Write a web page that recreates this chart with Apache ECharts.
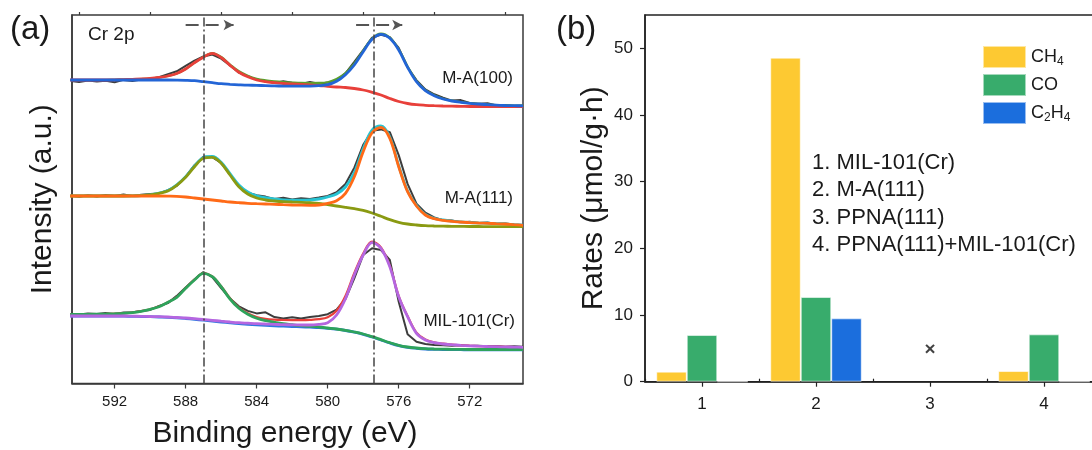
<!DOCTYPE html>
<html>
<head>
<meta charset="utf-8">
<script src="https://cdn.jsdelivr.net/npm/echarts@6/dist/echarts.min.js"></script>
<style>
  html, body { margin: 0; padding: 0; background: #fff; }
  #chart { width: 1092px; height: 450px; }
</style>
</head>
<body>
<div id="chart"></div>
<script>
// ---------- (a) Cr 2p XPS spectra ----------
const energy = [594.5, 594, 593.5, 593, 592.5, 592, 591.5, 591, 590.5, 590,
  589.5, 589, 588.5, 588, 587.5, 587, 586.5, 586, 585.5, 585,
  584.5, 584, 583.5, 583, 582.5, 582, 581.5, 581, 580.5, 580,
  579.5, 579, 578.5, 578, 577.5, 577, 576.5, 576, 575.5, 575,
  574.5, 574, 573.5, 573, 572.5, 572, 571.5, 571, 570.5, 570, 569.5, 569];

// M-A(100)
const ma100Raw = [302.6, 301.4, 303.1, 301.9, 302.8, 301.2, 303.6, 302.5, 304.1, 304.4,
  306.3, 309.4, 312.2, 317.6, 322.9, 327.1, 329.0, 324.8, 318.1, 310.9,
  307.3, 303.9, 302.6, 300.4, 302.3, 300.8, 299.6, 301.4, 299.8, 300.9,
  303.1, 310.2, 321.6, 333.5, 345.9, 348.7, 346.4, 335.6, 316.3, 303.4,
  294.1, 289.2, 285.7, 282.9, 283.4, 280.6, 279.8, 280.3, 278.1, 278.6, 277.4, 278.0];
const ma100Fit1 = [303.5, 303.5, 303.5, 303.5, 303.5, 303.7, 303.9, 304.2, 304.5, 305.0,
  306.0, 307.5, 310.0, 314.5, 320.8, 326.3, 330.2, 326.0, 318.2, 311.3,
  306.7, 303.5, 301.8, 300.8, 300.0, 299.5, 299.0, 298.5, 298.0, 297.2,
  296.5, 296.0, 295.0, 293.5, 291.2, 288.5, 285.0, 282.0, 280.0, 278.8,
  278.2, 277.8, 277.5, 277.3, 277.2, 277.0, 277.0, 277.0, 277.0, 277.0, 277.0, 277.0];
const ma100Fit2 = [303.5, 303.5, 303.5, 303.5, 303.5, 303.5, 303.5, 303.5, 303.5, 303.5,
  303.5, 303.5, 303.4, 303.2, 302.8, 301.8, 300.8, 299.8, 299.2, 298.7,
  298.3, 298.2, 297.8, 297.6, 297.4, 297.3, 297.3, 297.4, 297.8, 298.8,
  302.2, 308.8, 318.5, 331.8, 344.2, 349.2, 345.2, 333.5, 316.2, 301.8,
  292.8, 287.8, 284.5, 282.5, 281.2, 280.2, 279.5, 278.8, 278.3, 278.0, 277.8, 277.7];
const ma100Env = [303.5, 303.5, 303.5, 303.5, 303.5, 303.7, 303.9, 304.2, 304.5, 305.0,
  306.0, 307.5, 310.0, 314.5, 320.8, 326.5, 330.5, 326.5, 319.0, 312.2,
  307.8, 304.8, 303.2, 302.2, 301.5, 301.0, 300.6, 300.5, 300.6, 301.3,
  304.5, 310.5, 320.0, 332.8, 345.0, 350.0, 346.0, 334.3, 317.0, 302.5,
  293.3, 288.2, 284.8, 282.8, 281.5, 280.4, 279.7, 279.0, 278.5, 278.2, 278.0, 277.9];

// M-A(111)
const ma111Raw = [187.9, 186.8, 188.2, 187.1, 188.6, 187.4, 188.9, 187.6, 188.7, 189.4,
  190.1, 193.4, 197.6, 206.9, 218.3, 226.7, 226.4, 220.6, 208.8, 197.1,
  190.8, 188.2, 186.9, 184.6, 185.8, 184.1, 185.2, 184.4, 185.9, 187.6,
  191.2, 199.4, 215.8, 238.6, 252.7, 254.1, 251.3, 228.4, 199.6, 179.8,
  170.9, 166.1, 163.4, 162.9, 161.2, 161.8, 160.4, 160.9, 159.6, 160.1, 158.9, 158.6];
const ma111Fit1 = [187.5, 187.5, 187.5, 187.5, 187.5, 187.5, 187.5, 187.6, 187.8, 188.5,
  190.2, 192.5, 198.2, 206.2, 216.8, 225.2, 226.2, 220.2, 208.5, 196.8,
  189.5, 185.5, 183.5, 182.5, 181.8, 181.5, 181.2, 180.8, 180.2, 178.8,
  177.5, 176.2, 174.8, 173.2, 170.5, 167.2, 163.8, 161.2, 159.5, 158.5,
  157.8, 157.5, 157.3, 157.2, 157.1, 157.0, 157.0, 156.9, 156.9, 156.8, 156.8, 156.8];
const ma111Fit2 = [187.5, 187.5, 187.5, 187.5, 187.5, 187.5, 187.5, 187.5, 187.5, 187.5,
  187.5, 187.4, 187.2, 186.5, 185.5, 184.5, 183.5, 182.5, 181.5, 180.8,
  180.2, 179.8, 179.5, 179.2, 178.8, 178.5, 178.3, 178.2, 178.5, 180.2,
  182.8, 190.2, 206.8, 231.8, 250.8, 256.2, 245.2, 216.8, 191.8, 177.5,
  168.5, 164.8, 163.2, 162.2, 161.5, 160.8, 160.5, 160.2, 159.8, 159.5, 158.8, 158.2];
const ma111Env = [187.6, 187.6, 187.6, 187.6, 187.6, 187.6, 187.6, 187.7, 188.0, 188.7,
  190.5, 193.0, 198.6, 206.8, 217.5, 226.0, 227.0, 221.2, 209.8, 198.5,
  191.5, 187.7, 185.8, 184.5, 183.7, 183.3, 183.3, 183.5, 184.5, 186.5,
  189.5, 196.5, 211.0, 235.0, 253.5, 257.5, 246.5, 217.8, 192.5, 178.2,
  169.0, 165.2, 163.5, 162.4, 161.7, 161.0, 160.6, 160.3, 159.9, 159.6, 158.9, 158.3];

// MIL-101(Cr)
const milRaw = [69.8, 68.9, 70.1, 69.4, 70.6, 69.3, 70.9, 71.2, 72.4, 73.6,
  77.5, 80.4, 87.6, 96.1, 104.2, 111.5, 106.3, 95.4, 84.9, 77.2,
  72.6, 70.1, 71.2, 66.4, 65.1, 66.2, 64.9, 66.5, 67.4, 69.3,
  73.8, 84.5, 105.2, 128.5, 135.2, 133.5, 123.5, 81.8, 49.2, 41.8,
  39.5, 38.5, 38.2, 37.8, 38.2, 37.5, 37.8, 37.2, 37.5, 36.8, 37.2, 36.8];
const milBg = [67.3, 67.3, 67.3, 67.3, 67.3, 67.3, 67.3, 67.1, 67.0, 66.8,
  66.5, 66.2, 65.7, 65.0, 64.2, 63.3, 62.4, 61.5, 60.6, 59.8,
  59.2, 58.6, 58.1, 57.7, 57.3, 57.0, 56.7, 56.3, 55.9, 55.2,
  54.3, 53.0, 51.3, 49.2, 46.5, 43.5, 40.5, 37.9, 36.2, 35.2,
  34.5, 34.2, 34.0, 33.9, 33.8, 33.7, 33.7, 33.7, 33.7, 33.7, 33.7, 33.7];
const milFit1 = [69.2, 69.2, 69.2, 69.3, 69.5, 69.8, 70.2, 70.8, 72.2, 74.2,
  76.8, 81.2, 86.2, 95.2, 103.5, 110.2, 106.8, 96.8, 84.5, 75.2,
  69.2, 65.2, 62.8, 61.2, 59.8, 58.8, 57.8, 57.2, 56.5, 55.5,
  54.5, 53.2, 51.5, 49.5, 46.8, 43.8, 40.8, 38.2, 36.5, 35.5,
  34.8, 34.5, 34.3, 34.2, 34.1, 34.0, 34.0, 34.0, 34.0, 34.0, 34.0, 34.0];
const milFit2 = [67.5, 67.5, 67.5, 67.5, 67.5, 67.5, 67.5, 67.3, 67.2, 67.0,
  66.8, 66.5, 66.0, 65.5, 64.8, 64.0, 63.2, 62.3, 61.5, 60.8,
  60.3, 59.8, 59.5, 59.2, 58.8, 58.7, 58.5, 58.5, 59.2, 60.8,
  68.5, 84.8, 108.5, 128.5, 140.8, 135.2, 116.8, 86.8, 66.8, 50.2,
  43.5, 40.8, 39.5, 38.8, 38.2, 37.7, 37.3, 37.0, 36.8, 36.6, 36.4, 36.2];
const milEnv = [69.3, 69.3, 69.3, 69.4, 69.6, 69.9, 70.3, 70.9, 72.3, 74.3,
  76.9, 81.3, 86.4, 95.4, 103.8, 110.5, 107.2, 97.3, 85.2, 76.0,
  70.2, 66.5, 64.6, 63.8, 63.5, 63.4, 63.4, 63.6, 64.3, 66.3,
  72.8, 87.5, 110.5, 130.0, 142.0, 136.2, 117.6, 87.5, 67.4, 50.8,
  44.0, 41.2, 39.8, 39.0, 38.3, 37.8, 37.4, 37.1, 36.9, 36.7, 36.5, 36.3];

const spectrumNames = ['M-A(100)', 'M-A(111)', 'MIL-101(Cr)'];
const energyTicks = [572, 576, 580, 584, 588, 592];
const energyMinorTicks = [570, 574, 578, 582, 586, 590, 594];
const refLines = [587.0, 577.4];                     // Cr 2p1/2 and 2p3/2 reference positions
const shiftArrows = [[588.0, 585.3], [578.4, 575.8]]; // peak-shift arrows (from, to) in eV
const arrowLevel = 358.5;

// ---------- (b) product rates ----------
const categories = ['1', '2', '3', '4'];
const sampleNames = ['MIL-101(Cr)', 'M-A(111)', 'PPNA(111)', 'PPNA(111)+MIL-101(Cr)'];
const ch4Rate = [1.5, 48.6, null, 1.6];
const coRate = [7.0, 12.7, null, 7.1];
const c2h4Rate = [0, 9.5, null, 0];
const notDetected = [['3', 4.75]];
const rateTicks = [0, 10, 20, 30, 40, 50];
const rateMinorTicks = [5, 15, 25, 35, 45];

const FONT = '"Liberation Sans", Arial, Helvetica, sans-serif';
const INK = '#1a1a1a';

const pairs = arr => energy.map((e, i) => [e, arr[i]]);
function fit(arr, color, width) {
  return {
    type: 'line', xAxisIndex: 0, yAxisIndex: 0, data: pairs(arr),
    symbol: 'none', smooth: 0.35, silent: true,
    lineStyle: { color: color, width: width || 2.8 }
  };
}
function raw(arr) {
  return {
    type: 'line', xAxisIndex: 0, yAxisIndex: 0, data: pairs(arr),
    symbol: 'none', smooth: false, silent: true,
    lineStyle: { color: '#3d3d3d', width: 2 }
  };
}

const topRaw = raw(ma100Raw);
topRaw.markLine = {
  silent: true, symbol: 'none', animation: false,
  label: { show: false },
  lineStyle: { color: '#444', width: 1.5, type: [9, 3, 2, 3] },
  data: refLines.map(v => ({ xAxis: v }))
};
const midRaw = raw(ma111Raw);
midRaw.markLine = {
  silent: true, animation: false, symbol: 'none',
  label: { show: false },
  lineStyle: { color: '#555', width: 2, type: [13, 7] },
  data: shiftArrows.map(a => [
    { coord: [a[0], arrowLevel], symbol: 'none' },
    { coord: [a[1], arrowLevel], symbol: 'arrow', symbolSize: [8, 10] }
  ])
};

const barBorder = 'rgba(255,255,255,0.55)';
const bar = (name, data, color) => ({
  name: name, type: 'bar', xAxisIndex: 2, yAxisIndex: 1, data: data,
  barWidth: 30.5, barGap: '0%',
  itemStyle: { color: color, borderColor: barBorder, borderWidth: 1 }
});

const subs = { 'CH4': '{n|CH}{s|4}', 'CO': '{n|CO}', 'C2H4': '{n|C}{s|2}{n|H}{s|4}' };

const option = {
  animation: false,
  backgroundColor: '#ffffff',
  textStyle: { fontFamily: FONT },
  grid: [
    { left: 72, top: 15, width: 451, height: 368.5, outerBoundsMode: 'none', show: true, borderColor: '#3a3a3a', borderWidth: 1.5, backgroundColor: 'transparent' },
    { left: 645, top: 15, width: 456, height: 366.7, outerBoundsMode: 'none', show: true, borderColor: '#222', borderWidth: 1.5, backgroundColor: 'transparent' }
  ],
  xAxis: [
    {
      type: 'value', gridIndex: 0, min: 569, max: 594.4, inverse: true,
      name: 'Binding energy (eV)', nameLocation: 'middle', nameGap: 35,
      nameTextStyle: { fontSize: 30, color: INK, fontFamily: FONT, padding: [0, 25, 0, 0] },
      axisLine: { lineStyle: { color: '#3a3a3a', width: 1.5 } },
      axisTick: { show: true, length: 5, customValues: energyTicks, lineStyle: { color: '#3a3a3a', width: 1.2 } },
      axisLabel: { customValues: energyTicks, fontSize: 15, color: INK, margin: 11, fontFamily: FONT },
      splitLine: { show: false }
    },
    {
      type: 'value', gridIndex: 0, min: 569, max: 594.4, inverse: true,
      axisLine: { show: false },
      axisTick: { show: true, length: 3, customValues: energyMinorTicks, lineStyle: { color: '#3a3a3a', width: 1.2 } },
      axisLabel: { show: false }, splitLine: { show: false }
    },
    {
      type: 'category', gridIndex: 1, data: categories,
      axisLine: { lineStyle: { color: '#222', width: 1.5 } },
      axisTick: { show: true, alignWithLabel: true, length: 5, lineStyle: { color: '#222', width: 1.2 } },
      axisLabel: { fontSize: 17, color: INK, margin: 14, fontFamily: FONT },
      splitLine: { show: false }
    },
    {
      type: 'category', gridIndex: 1, data: categories,
      axisLine: { show: false },
      axisTick: { show: true, length: 3, lineStyle: { color: '#222', width: 1.2 } },
      axisLabel: { show: false }, splitLine: { show: false }
    }
  ],
  yAxis: [
    {
      type: 'value', gridIndex: 0, min: 0, max: 368.5,
      name: 'Intensity (a.u.)', nameLocation: 'middle', nameGap: 14,
      nameTextStyle: { fontSize: 30, color: INK, fontFamily: FONT },
      axisLine: { show: true, lineStyle: { color: '#3a3a3a', width: 1.5 } },
      axisTick: { show: false }, axisLabel: { show: false }, splitLine: { show: false }
    },
    {
      type: 'value', gridIndex: 1, min: 0, max: 55, interval: 10,
      name: 'Rates (μmol/g·h)', nameLocation: 'middle', nameGap: 36,
      nameTextStyle: { fontSize: 30, color: INK, fontFamily: FONT },
      axisLine: { show: true, lineStyle: { color: '#222', width: 1.5 } },
      axisTick: { show: true, length: 5, customValues: rateTicks, lineStyle: { color: '#222', width: 1.2 } },
      axisLabel: { customValues: rateTicks, fontSize: 17, color: INK, margin: 12, fontFamily: FONT },
      splitLine: { show: false }
    },
    {
      type: 'value', gridIndex: 1, min: 0, max: 55,
      axisLine: { show: false },
      axisTick: { show: true, length: 3, customValues: rateMinorTicks, lineStyle: { color: '#222', width: 1.2 } },
      axisLabel: { show: false }, splitLine: { show: false }
    }
  ],
  legend: {
    data: ['CH4', 'CO', 'C2H4'],
    orient: 'vertical', left: 977, top: 40,
    itemWidth: 43, itemHeight: 22, itemGap: 4,
    icon: 'rect', selectedMode: false,
    formatter: name => subs[name],
    textStyle: {
      color: INK, fontFamily: FONT,
      rich: {
        n: { fontSize: 18, color: INK, fontFamily: FONT },
        s: { fontSize: 12, color: INK, fontFamily: FONT, padding: [10, 0, 0, 0] }
      }
    }
  },
  series: [
    // M-A(100)
    topRaw,
    fit(ma100Env, '#5aa02c', 2.2),
    fit(ma100Fit1, '#e8403a'),
    fit(ma100Fit2, '#2365d6'),
    // M-A(111)
    midRaw,
    fit(ma111Env, '#27c3d2', 2.8),
    fit(ma111Fit1, '#8a9a12'),
    fit(ma111Fit2, '#ff6a17'),
    // MIL-101(Cr)
    raw(milRaw),
    fit(milBg, '#2f78e0', 2.8),
    fit(milEnv, '#e8403a', 2.2),
    fit(milFit1, '#2ea35b'),
    fit(milFit2, '#b566e0'),
    // product rates
    bar('CH4', ch4Rate, '#fdc932'),
    bar('CO', coRate, '#38ac6c'),
    bar('C2H4', c2h4Rate, '#1b6edd'),
    {
      type: 'scatter', xAxisIndex: 2, yAxisIndex: 1, data: notDetected,
      symbol: 'circle', symbolSize: 2, itemStyle: { color: 'rgba(0,0,0,0)' }, silent: true,
      label: { show: true, position: 'inside', formatter: '×', fontSize: 19, fontWeight: 'bold', color: '#111', fontFamily: FONT }
    }
  ],
  graphic: [
    { type: 'text', x: 10, y: 30, style: { text: '(a)', font: '33px ' + FONT, fill: INK, verticalAlign: 'middle' } },
    { type: 'text', x: 88, y: 35, style: { text: 'Cr 2p', font: '19px ' + FONT, fill: INK, verticalAlign: 'middle' } },
    { type: 'text', x: 513, y: 78, style: { text: spectrumNames[0], font: '17px ' + FONT, fill: INK, align: 'right', verticalAlign: 'middle' } },
    { type: 'text', x: 513, y: 198, style: { text: spectrumNames[1], font: '17px ' + FONT, fill: INK, align: 'right', verticalAlign: 'middle' } },
    { type: 'text', x: 515, y: 321.5, style: { text: spectrumNames[2], font: '17px ' + FONT, fill: INK, align: 'right', verticalAlign: 'middle' } },
    { type: 'text', x: 556, y: 30, style: { text: '(b)', font: '33px ' + FONT, fill: INK, verticalAlign: 'middle' } }
  ].concat(sampleNames.map((s, i) => ({
    type: 'text', x: 812, y: 162.7 + i * 27.4,
    style: { text: categories[i] + '. ' + s, font: '22px ' + FONT, fill: INK, verticalAlign: 'middle' }
  })))
};

const chart = echarts.init(document.getElementById('chart'), null, { renderer: 'canvas' });
chart.setOption(option);
</script>
</body>
</html>
